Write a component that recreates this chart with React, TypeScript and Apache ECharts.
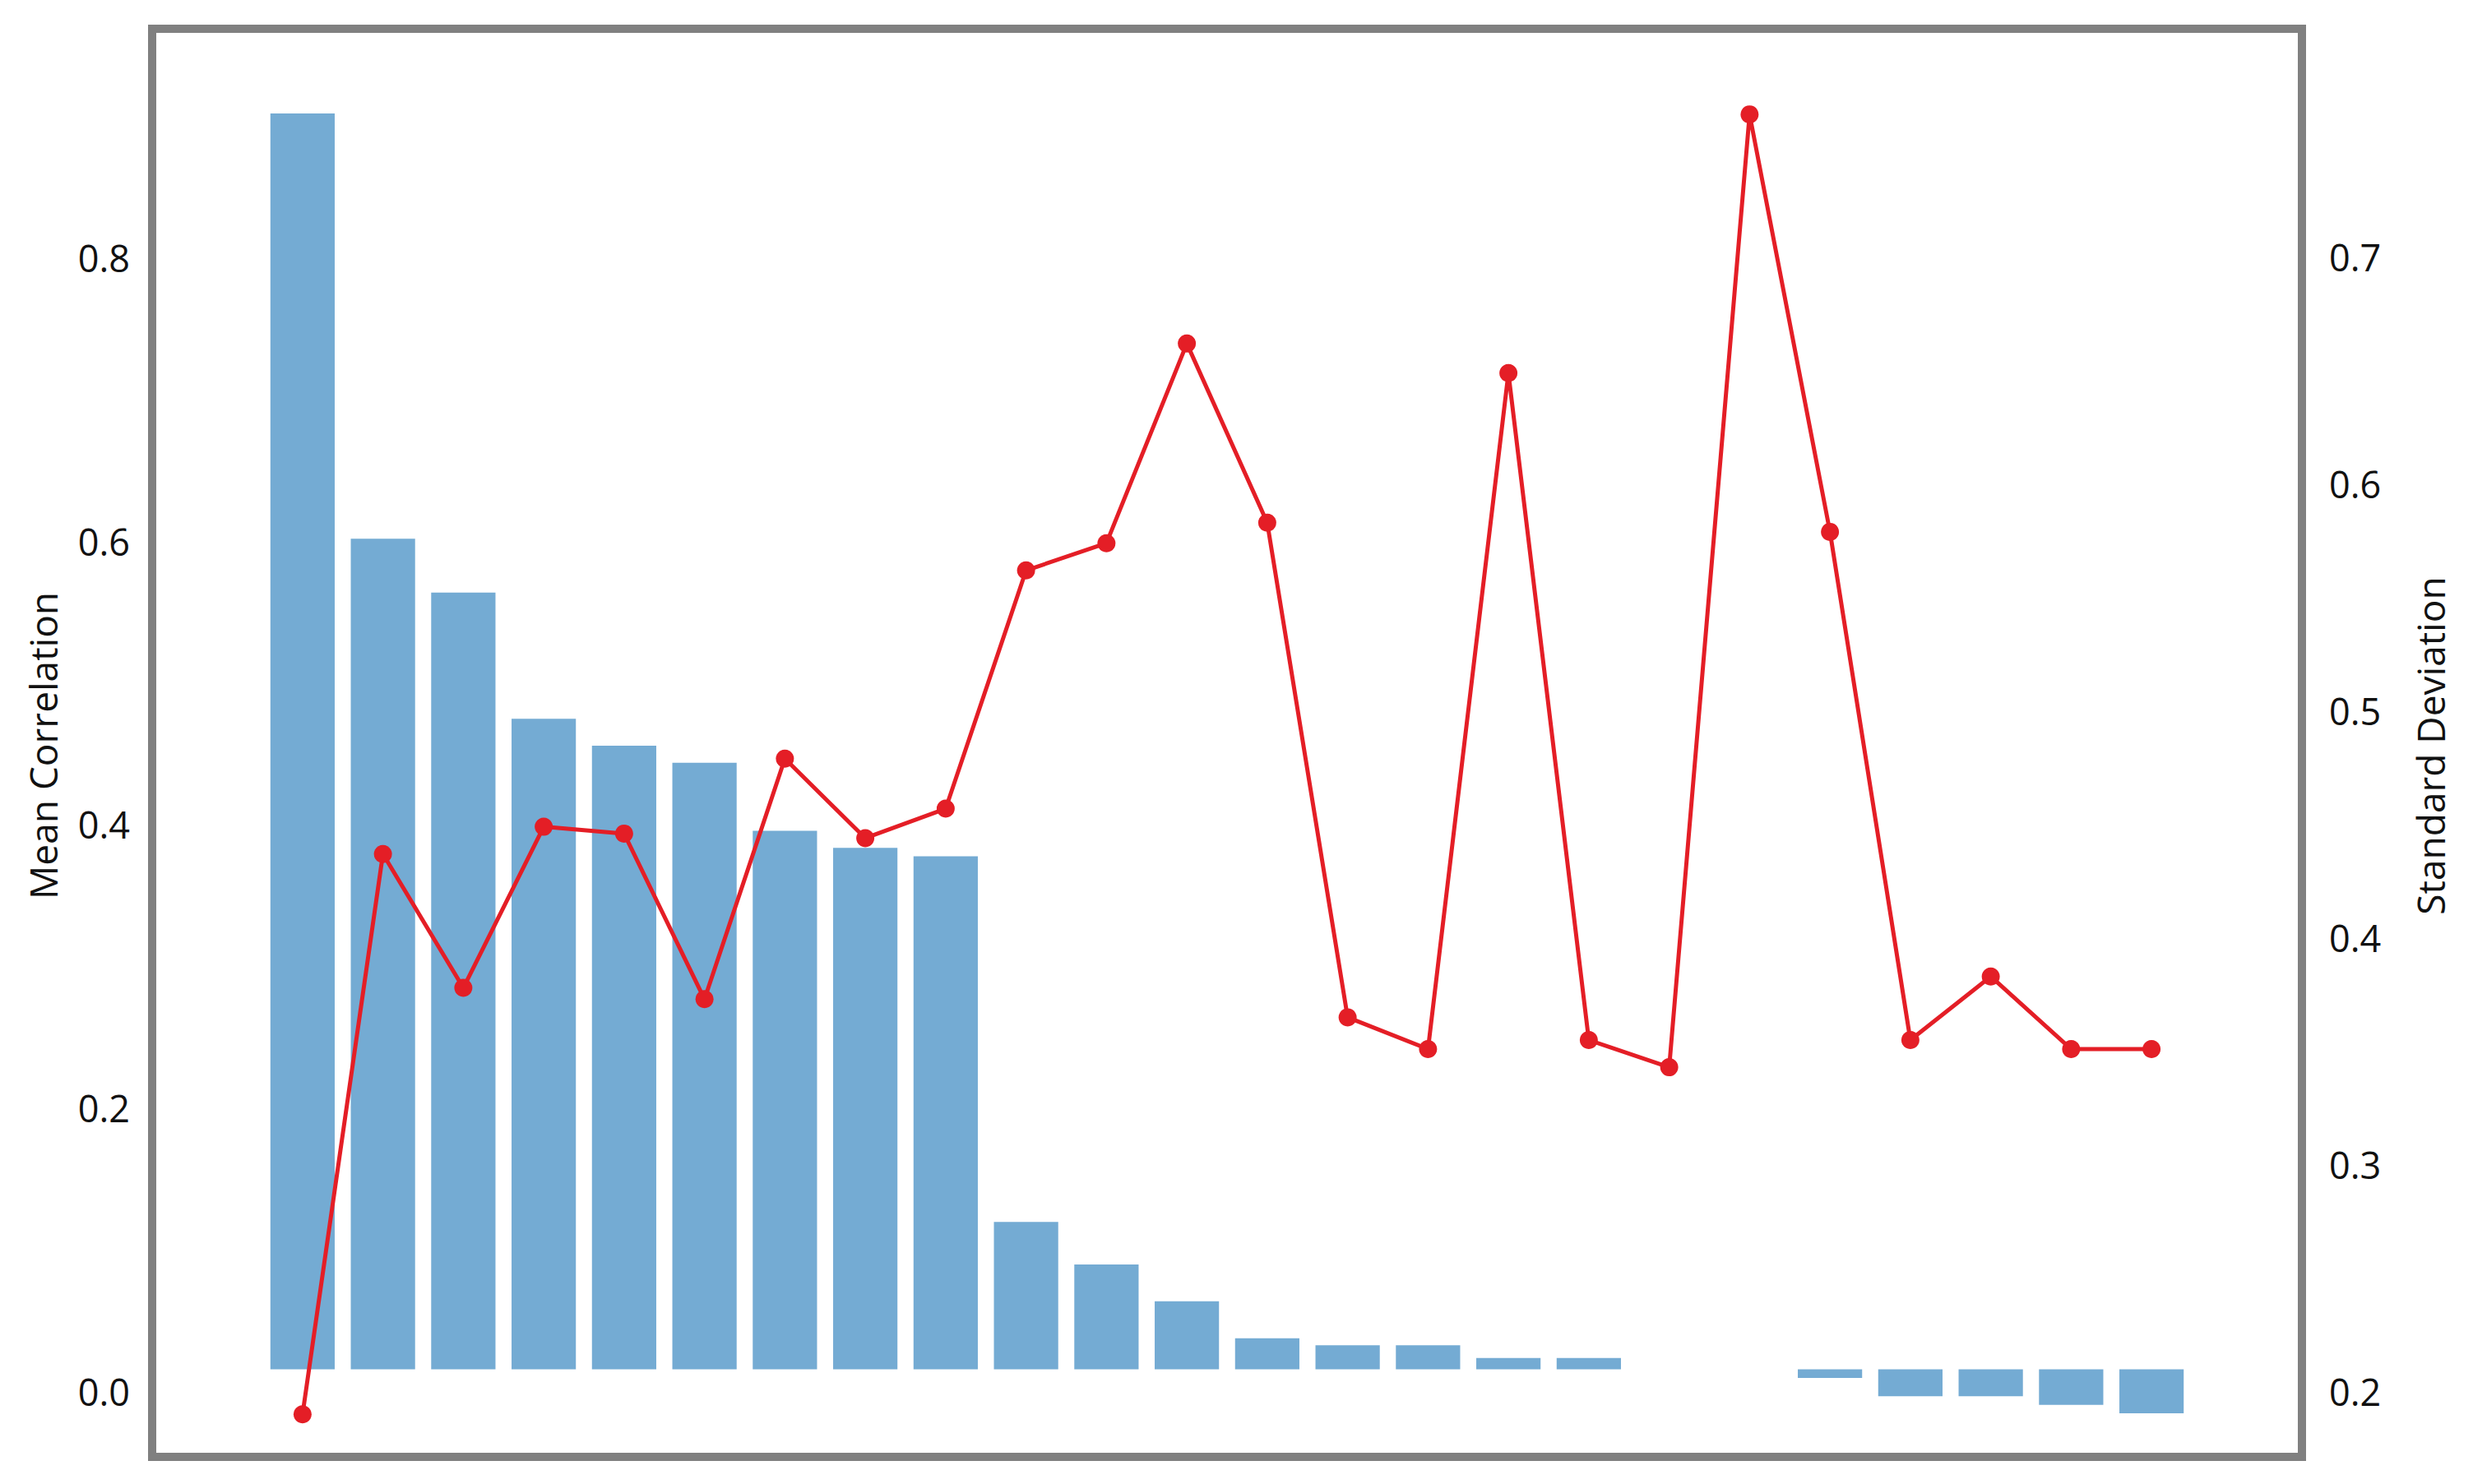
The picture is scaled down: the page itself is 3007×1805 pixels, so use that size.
import React, { useEffect, useRef } from 'react';
import * as echarts from 'echarts';

const categories = ['1', '2', '3', '4', '5', '6', '7', '8', '9', '10', '11', '12', '13', '14', '15', '16', '17', '18', '19', '20', '21', '22', '23', '24'];
const meanCorrelation = [0.886, 0.586, 0.548, 0.459, 0.44, 0.428, 0.38, 0.368, 0.362, 0.104, 0.074, 0.048, 0.022, 0.017, 0.017, 0.008, 0.008, 0, 0, -0.006, -0.019, -0.019, -0.025, -0.031];
const standardDeviation = [0.19, 0.437, 0.378, 0.449, 0.446, 0.373, 0.479, 0.444, 0.457, 0.562, 0.574, 0.662, 0.583, 0.365, 0.351, 0.649, 0.355, 0.343, 0.763, 0.579, 0.355, 0.383, 0.351, 0.351];
const leftTicks = [0, 0.2, 0.4, 0.6, 0.8];
const rightTicks = [0.2, 0.3, 0.4, 0.5, 0.6, 0.7];

const FONT = 'Open Sans';

export default function App() {
  const ref = useRef<HTMLDivElement>(null);
  useEffect(() => {
    if (!ref.current) return;
    const chart = echarts.init(ref.current, undefined, { renderer: 'svg' });
    chart.setOption({
      animation: false,
      backgroundColor: '#ffffff',
      grid: { left: 319, right: 342, top: 45, bottom: 36, containLabel: false },
      graphic: [
        {
          type: 'rect',
          silent: true,
          shape: { x: 185, y: 35, width: 2614, height: 1737 },
          style: { fill: 'none', stroke: '#808080', lineWidth: 10 },
        },
      ],
      xAxis: {
        type: 'category',
        data: categories,
        boundaryGap: true,
        axisLine: { show: false },
        axisTick: { show: false },
        axisLabel: { show: false },
        splitLine: { show: false },
      },
      yAxis: [
        {
          type: 'value',
          position: 'left',
          min: -0.06,
          max: 0.94,
          name: 'Mean Correlation',
          nameLocation: 'middle',
          nameRotate: 90,
          nameGap: 244,
          nameTextStyle: { fontSize: 46, fontFamily: FONT, color: '#111111' },
          axisLine: { show: false },
          axisTick: { show: false },
          splitLine: { show: false },
          axisLabel: {
            customValues: leftTicks,
            formatter: (v: number) => v.toFixed(1),
            fontSize: 45,
            fontFamily: FONT,
            color: '#111111',
            margin: 161,
            verticalAlign: 'top',
            lineHeight: 54,
          },
        },
        {
          type: 'value',
          position: 'right',
          min: 0.17235,
          max: 0.79712,
          name: 'Standard Deviation',
          nameLocation: 'middle',
          nameRotate: 90,
          nameGap: 267,
          nameTextStyle: { fontSize: 46, fontFamily: FONT, color: '#111111' },
          axisLine: { show: false },
          axisTick: { show: false },
          splitLine: { show: false },
          axisLabel: {
            customValues: rightTicks,
            formatter: (v: number) => v.toFixed(1),
            fontSize: 45,
            fontFamily: FONT,
            color: '#111111',
            margin: 167,
          },
        },
      ],
      series: [
        {
          name: 'Mean Correlation',
          type: 'bar',
          yAxisIndex: 0,
          data: meanCorrelation,
          barWidth: '80%',
          clip: false,
          itemStyle: { color: '#74abd3' },
          z: 2,
        },
        {
          name: 'Standard Deviation',
          type: 'line',
          yAxisIndex: 1,
          data: standardDeviation,
          clip: false,
          symbol: 'circle',
          symbolSize: 22,
          lineStyle: { color: '#e41e26', width: 5 },
          itemStyle: { color: '#e41e26' },
          z: 3,
        },
      ],
    });
    return () => chart.dispose();
  }, []);
  return (
    <div
      ref={ref}
      style={{ position: 'fixed', left: 0, top: 0, width: 3007, height: 1805, background: '#ffffff' }}
    />
  );
}
